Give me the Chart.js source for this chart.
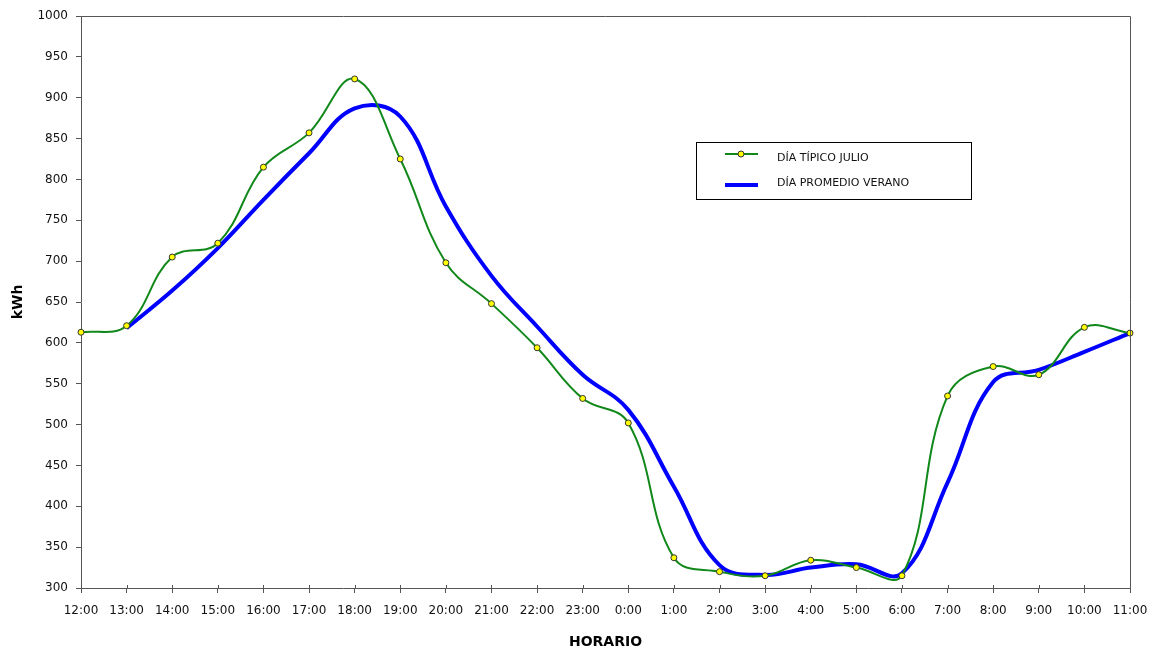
<!DOCTYPE html>
<html>
<head>
<meta charset="utf-8">
<title>Consumo horario</title>
<script src="https://cdn.jsdelivr.net/npm/chart.js@4.4.1/dist/chart.umd.min.js"></script>
<style>
  body { margin: 0; background: #fff; }
  #wrap { width: 1159px; height: 657px; }
</style>
</head>
<body>
<div id="wrap"><canvas id="consumo" width="1159" height="657"></canvas></div>
<script>
// horas del día, de mediodía a mediodía
const horas = ['12:00', '13:00', '14:00', '15:00', '16:00', '17:00', '18:00', '19:00',
    '20:00', '21:00', '22:00', '23:00', '0:00', '1:00', '2:00', '3:00', '4:00', '5:00',
    '6:00', '7:00', '8:00', '9:00', '10:00', '11:00'];

// kWh
const diaTipicoJulio = [613, 621, 705, 722, 815, 857, 923, 825, 698, 648, 594, 532,
    502, 337, 320, 315, 334, 325, 315, 535, 571, 561, 619, 612];
const diaPromedioVerano = [null, 618, 664, 716, 775, 832, 887, 877, 767, 682, 620, 561,
    518, 424, 328, 316, 325, 329, 318, 429, 552, 567, 589, 612];

const yMin = 300;
const yMax = 1000;
const yPaso = 50;

const fuente = 'DejaVu Sans, sans-serif';
const ejeColor = '#555';

// borde superior/derecho del área y marcas de hora que cruzan el eje
const marco = {
    id: 'marco',
    afterDraw(chart) {
        const { ctx, chartArea: a } = chart;
        const x = chart.scales.x;
        ctx.save();
        ctx.strokeStyle = ejeColor;
        ctx.lineWidth = 1;
        ctx.beginPath();
        ctx.moveTo(a.left, a.top + 0.5);
        ctx.lineTo(a.right + 0.5, a.top + 0.5);
        ctx.lineTo(a.right + 0.5, a.bottom);
        for (let i = 0; i < horas.length; i++) {
            const px = Math.round(x.getPixelForTick(i)) + 0.5;
            ctx.moveTo(px, a.bottom - 3);
            ctx.lineTo(px, a.bottom);
        }
        ctx.stroke();
        ctx.restore();
    }
};

// leyenda en recuadro dentro del área
const leyenda = {
    id: 'leyenda',
    afterDraw(chart) {
        const ctx = chart.ctx;
        const bx = 696, by = 142, bw = 275, bh = 57;
        const filas = [154, 185];
        const textos = [158, 183];
        ctx.save();
        ctx.fillStyle = '#fff';
        ctx.fillRect(bx, by, bw, bh);
        ctx.strokeStyle = '#000';
        ctx.lineWidth = 1;
        ctx.strokeRect(bx + 0.5, by + 0.5, bw, bh);
        chart.data.datasets.forEach((ds, i) => {
            const ly = filas[i];
            ctx.strokeStyle = ds.borderColor;
            ctx.lineWidth = ds.borderWidth;
            ctx.beginPath();
            ctx.moveTo(725, ly);
            ctx.lineTo(758, ly);
            ctx.stroke();
            if (ds.pointRadius > 0) {
                ctx.fillStyle = ds.pointBackgroundColor;
                ctx.strokeStyle = ds.pointBorderColor;
                ctx.lineWidth = 1;
                ctx.beginPath();
                ctx.arc(741, ly, ds.pointRadius, 0, Math.PI * 2);
                ctx.fill();
                ctx.stroke();
            }
            ctx.fillStyle = '#111';
            ctx.font = '11px ' + fuente;
            ctx.textBaseline = 'middle';
            ctx.fillText(ds.label, 777, textos[i]);
        });
        ctx.restore();
    }
};

new Chart(document.getElementById('consumo'), {
    type: 'line',
    data: {
        labels: horas,
        datasets: [{
            label: 'DÍA TÍPICO JULIO',
            data: diaTipicoJulio,
            borderColor: '#11881a',
            borderWidth: 2,
            tension: 0.4,
            pointRadius: 3,
            pointBackgroundColor: '#ffff00',
            pointBorderColor: '#333',
            pointBorderWidth: 1
        }, {
            label: 'DÍA PROMEDIO VERANO',
            data: diaPromedioVerano,
            borderColor: '#0000ff',
            borderWidth: 4,
            tension: 0.4,
            pointRadius: 0
        }]
    },
    options: {
        responsive: false,
        animation: false,
        layout: {
            padding: { top: 16, right: 29, left: 0, bottom: 0 }
        },
        plugins: {
            legend: { display: false },
            tooltip: { enabled: false }
        },
        scales: {
            x: {
                offset: false,
                grid: {
                    drawOnChartArea: false,
                    tickLength: 5,
                    color: ejeColor
                },
                border: { color: ejeColor, width: 1 },
                ticks: {
                    autoSkip: false,
                    maxRotation: 0,
                    padding: 11,
                    color: '#111',
                    font: { family: fuente, size: 12 }
                },
                title: {
                    display: true,
                    text: 'HORARIO',
                    color: '#000',
                    padding: { bottom: 6 },
                    font: { family: fuente, size: 14, weight: 'bold' }
                },
                afterFit(scale) { scale.height = 69; }
            },
            y: {
                min: yMin,
                max: yMax,
                grid: {
                    drawOnChartArea: false,
                    tickLength: 5,
                    color: ejeColor
                },
                border: { color: ejeColor, width: 1 },
                ticks: {
                    stepSize: yPaso,
                    padding: 8,
                    color: '#111',
                    font: { family: fuente, size: 12 },
                    callback: (v) => String(v)
                },
                title: {
                    display: true,
                    text: 'kWh',
                    color: '#000',
                    padding: { top: 10 },
                    font: { family: fuente, size: 14, weight: 'bold' }
                },
                afterFit(scale) { scale.width = 81; }
            }
        }
    },
    plugins: [marco, leyenda]
});
</script>
</body>
</html>
